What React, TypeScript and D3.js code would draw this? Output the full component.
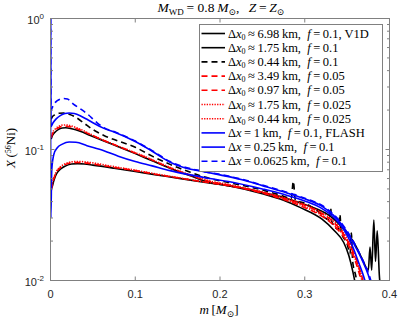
import React from "react";
import * as d3 from "d3";

type Pt = [number, number];

const W = 399;
const H = 319;
const plot = { left: 50.5, right: 389.5, top: 18.5, bottom: 280.5 };

const xTicks = [0, 0.1, 0.2, 0.3, 0.4];
const xTickLabels = ["0", "0.1", "0.2", "0.3", "0.4"];
const yTicks = [0.01, 0.1, 1];
const yTickExp = ["-2", "-1", "0"];

// [m, X(56Ni)]
const v1d698: Pt[] = [
  [0.0008, 0.05], [0.002, 0.052], [0.004, 0.058], [0.007, 0.065], [0.012, 0.071], [0.018, 0.075],
  [0.025, 0.0775], [0.032, 0.078], [0.04, 0.0775], [0.05, 0.076], [0.075, 0.072], [0.1, 0.068],
  [0.125, 0.064], [0.15, 0.0605], [0.175, 0.057], [0.2, 0.054], [0.225, 0.051], [0.25, 0.047],
  [0.275, 0.043], [0.3, 0.038], [0.315, 0.035], [0.33, 0.031], [0.345, 0.025], [0.358, 0.0195],
  [0.368, 0.0145], [0.375, 0.012], [0.377, 0.018], [0.379, 0.012], [0.3815, 0.029], [0.3835, 0.014],
  [0.3855, 0.024], [0.388, 0.011], [0.392, 0.007],
];
const v1d175: Pt[] = [
  [0.0008, 0.12], [0.002, 0.127], [0.005, 0.135], [0.009, 0.142], [0.014, 0.146], [0.018, 0.1465],
  [0.025, 0.144], [0.035, 0.138], [0.047, 0.128], [0.063, 0.116], [0.08, 0.105], [0.1, 0.093],
  [0.12, 0.082], [0.141, 0.072], [0.165, 0.063], [0.188, 0.056], [0.21, 0.053], [0.25, 0.046],
  [0.275, 0.041], [0.295, 0.036], [0.32, 0.0295], [0.335, 0.024], [0.346, 0.0195], [0.352, 0.0155],
  [0.357, 0.0115], [0.361, 0.0085],
];
const v1d044: Pt[] = [
  [0.0008, 0.17], [0.002, 0.177], [0.005, 0.184], [0.01, 0.189], [0.016, 0.19], [0.022, 0.186],
  [0.03, 0.176], [0.04, 0.158], [0.05, 0.142], [0.063, 0.128], [0.08, 0.116], [0.1, 0.104],
  [0.12, 0.089], [0.141, 0.077], [0.165, 0.067], [0.188, 0.06], [0.21, 0.056], [0.25, 0.049],
  [0.275, 0.044], [0.284, 0.042], [0.2865, 0.057], [0.289, 0.041], [0.3, 0.039], [0.315, 0.034],
  [0.329, 0.029], [0.3305, 0.036], [0.332, 0.028], [0.34, 0.0245], [0.3415, 0.032], [0.343, 0.0235],
  [0.35, 0.019], [0.3535, 0.016], [0.355, 0.023], [0.3565, 0.014], [0.36, 0.011], [0.364, 0.008],
];
const f005dx349: Pt[] = [
  [0.0008, 0.049], [0.002, 0.053], [0.004, 0.06], [0.007, 0.067], [0.012, 0.073], [0.018, 0.077],
  [0.025, 0.079], [0.032, 0.0795], [0.04, 0.079], [0.05, 0.0775], [0.075, 0.073], [0.1, 0.069],
  [0.125, 0.0645], [0.15, 0.0608], [0.175, 0.0573], [0.2, 0.0542], [0.225, 0.0508], [0.25, 0.047],
  [0.275, 0.0425], [0.3, 0.0375], [0.32, 0.0325], [0.335, 0.0275], [0.348, 0.0215], [0.358, 0.016],
  [0.366, 0.0115], [0.371, 0.0088],
];
const f005dx097: Pt[] = [
  [0.0008, 0.123], [0.002, 0.13], [0.005, 0.139], [0.009, 0.146], [0.014, 0.15], [0.018, 0.1505],
  [0.025, 0.148], [0.035, 0.141], [0.047, 0.13], [0.063, 0.117], [0.08, 0.106], [0.1, 0.094],
  [0.12, 0.083], [0.141, 0.0725], [0.165, 0.0635], [0.188, 0.057], [0.21, 0.0535], [0.25, 0.0465],
  [0.275, 0.0415], [0.3, 0.036], [0.32, 0.031], [0.335, 0.026], [0.348, 0.0205], [0.357, 0.0155],
  [0.364, 0.0115], [0.369, 0.0085],
];
const f0025dx175: Pt[] = [
  [0.0008, 0.048], [0.002, 0.054], [0.004, 0.061], [0.007, 0.068], [0.012, 0.074], [0.018, 0.078],
  [0.025, 0.0805], [0.032, 0.081], [0.04, 0.0805], [0.05, 0.079], [0.075, 0.074], [0.1, 0.0695],
  [0.125, 0.065], [0.15, 0.061], [0.175, 0.0575], [0.2, 0.0545], [0.225, 0.051], [0.25, 0.0475],
  [0.275, 0.043], [0.3, 0.038], [0.32, 0.033], [0.335, 0.028], [0.348, 0.022], [0.358, 0.0165],
  [0.365, 0.012], [0.37, 0.0095], [0.374, 0.007],
];
const f0025dx044: Pt[] = [
  [0.0008, 0.126], [0.002, 0.133], [0.005, 0.142], [0.009, 0.149], [0.014, 0.1535], [0.018, 0.154],
  [0.025, 0.151], [0.035, 0.143], [0.047, 0.131], [0.063, 0.1175], [0.08, 0.106], [0.1, 0.0945],
  [0.12, 0.0835], [0.141, 0.073], [0.165, 0.064], [0.188, 0.0575], [0.21, 0.054], [0.25, 0.047],
  [0.275, 0.042], [0.3, 0.0365], [0.32, 0.0315], [0.335, 0.0265], [0.348, 0.021], [0.358, 0.0155],
  [0.365, 0.0115], [0.37, 0.0085],
];
const flash1: Pt[] = [
  [0, 1], [0.0004, 0.03], [0.0015, 0.07], [0.004, 0.092], [0.008, 0.103], [0.014, 0.11],
  [0.022, 0.114], [0.03, 0.1135], [0.043, 0.107], [0.063, 0.098], [0.08, 0.089], [0.1, 0.081],
  [0.12, 0.075], [0.141, 0.069], [0.165, 0.064], [0.188, 0.06], [0.21, 0.057], [0.25, 0.05],
  [0.275, 0.0455], [0.3, 0.0405], [0.32, 0.0355], [0.335, 0.03], [0.346, 0.0245], [0.356, 0.0185],
  [0.364, 0.0135], [0.37, 0.0105], [0.374, 0.0085],
];
const flash025: Pt[] = [
  [0, 1], [0.0005, 0.15], [0.003, 0.16], [0.007, 0.172], [0.012, 0.182], [0.017, 0.188],
  [0.022, 0.19], [0.028, 0.188], [0.035, 0.181], [0.043, 0.17], [0.05, 0.16], [0.063, 0.145],
  [0.075, 0.136], [0.1, 0.115], [0.12, 0.097], [0.141, 0.08], [0.16, 0.072], [0.18, 0.068],
  [0.2, 0.064], [0.225, 0.059], [0.25, 0.053], [0.275, 0.0475], [0.3, 0.042], [0.32, 0.037],
  [0.334, 0.0315], [0.346, 0.0255], [0.358, 0.019], [0.368, 0.0142], [0.375, 0.011], [0.38, 0.0085],
];
const flash00625: Pt[] = [
  [0, 1], [0.0005, 0.2], [0.003, 0.215], [0.006, 0.23], [0.01, 0.24], [0.0155, 0.245],
  [0.02, 0.243], [0.027, 0.222], [0.035, 0.205], [0.043, 0.188], [0.055, 0.16], [0.063, 0.147],
  [0.075, 0.137], [0.1, 0.116], [0.12, 0.098], [0.141, 0.081], [0.16, 0.073], [0.18, 0.068],
  [0.2, 0.0645], [0.225, 0.0595], [0.25, 0.0535], [0.275, 0.048], [0.3, 0.0425], [0.32, 0.0375],
  [0.334, 0.032], [0.346, 0.026], [0.358, 0.0195], [0.368, 0.0145], [0.376, 0.011], [0.381, 0.0085],
];

const legendDx = ["6.98", "1.75", "0.44", "3.49", "0.97", "1.75", "0.44", "1", "0.25", "0.0625"];
const legendF = ["0.1", "0.1", "0.1", "0.05", "0.05", "0.025", "0.025", "0.1", "0.1", "0.1"];
const legendCode = ["V1D", "", "", "", "", "", "", "FLASH", "", ""];

const BLUE = "#0000ff";
const RED = "#ff0000";
const DASH = "6,4";
const DOT = "1.3,1.3";

const series = [
  { data: v1d698, color: "#000", dash: "", flash: false },
  { data: v1d175, color: "#000", dash: "", flash: false },
  { data: v1d044, color: "#000", dash: DASH, flash: false },
  { data: f005dx349, color: RED, dash: DASH, flash: false },
  { data: f005dx097, color: RED, dash: DASH, flash: false },
  { data: f0025dx175, color: RED, dash: DOT, flash: false },
  { data: f0025dx044, color: RED, dash: DOT, flash: false },
  { data: flash1, color: BLUE, dash: "", flash: true },
  { data: flash025, color: BLUE, dash: "", flash: true },
  { data: flash00625, color: BLUE, dash: DASH, flash: true },
];

const SERIF = "'Liberation Serif', 'DejaVu Serif', serif";
const SANS = "'Liberation Sans', Arial, sans-serif";
const AXIS = "#808080";

export default function App() {
  const x = d3.scaleLinear().domain([0, 0.4]).range([plot.left, plot.right]);
  const y = d3.scaleLog().domain([0.01, 1]).range([plot.bottom, plot.top]);
  const line = d3
    .line<Pt>()
    .x((d) => x(d[0]))
    .y((d) => y(d[1]))
    .curve(d3.curveMonotoneX);

  const minor: number[] = [];
  [0.01, 0.1].forEach((d) => {
    for (let k = 2; k <= 9; k++) minor.push(k * d);
  });

  const lg = { x: 199.5, y: 24.5, w: 183, h: 147, row0: 33.5, dy: 14.2 };

  return (
    <svg width={W} height={H} style={{ position: "absolute", left: 0, top: 0 }}>
      <rect width={W} height={H} fill="#fff" />
      <defs>
        <clipPath id="plotclip">
          <rect x={plot.left} y={plot.top - 1} width={plot.right - plot.left} height={plot.bottom - plot.top + 1} />
        </clipPath>
      </defs>

      {/* title */}
      <text x={221} y={12} textAnchor="middle" fontFamily={SERIF} fontSize={13.5}>
        <tspan fontStyle="italic">M</tspan>
        <tspan fontSize={9} dy={2.5}>WD</tspan>
        <tspan dy={-2.5}>{"\u2009= 0.8\u2009"}</tspan>
        <tspan fontStyle="italic">M</tspan>
        <tspan fontSize={9} dy={2.5}>⊙</tspan>
        <tspan dy={-2.5}>{",\u2002\u2009"}</tspan>
        <tspan fontStyle="italic">Z</tspan>
        <tspan>{"\u2009=\u2009"}</tspan>
        <tspan fontStyle="italic">Z</tspan>
        <tspan fontSize={9} dy={2.5}>⊙</tspan>
      </text>

      {/* curves */}
      <g clipPath="url(#plotclip)" fill="none">
        {series.map((s, i) => (
          <path
            key={i}
            d={line(s.data) || ""}
            stroke={s.color}
            strokeWidth={1.6}
            strokeDasharray={s.dash || undefined}
          />
        ))}
      </g>

      {/* axes box */}
      <rect
        x={plot.left}
        y={plot.top}
        width={plot.right - plot.left}
        height={plot.bottom - plot.top}
        fill="none"
        stroke={AXIS}
        strokeWidth={1}
      />
      {xTicks.map((t) => (
        <g key={"xt" + t} stroke={AXIS}>
          <line x1={x(t)} x2={x(t)} y1={plot.bottom} y2={plot.bottom - 4} />
          <line x1={x(t)} x2={x(t)} y1={plot.top} y2={plot.top + 4} />
        </g>
      ))}
      {yTicks.map((t) => (
        <g key={"yt" + t} stroke={AXIS}>
          <line x1={plot.left} x2={plot.left + 4} y1={y(t)} y2={y(t)} />
          <line x1={plot.right} x2={plot.right - 4} y1={y(t)} y2={y(t)} />
        </g>
      ))}
      {minor.map((t) => (
        <g key={"ym" + t} stroke={AXIS}>
          <line x1={plot.left} x2={plot.left + 2.5} y1={y(t)} y2={y(t)} />
          <line x1={plot.right} x2={plot.right - 2.5} y1={y(t)} y2={y(t)} />
        </g>
      ))}

      {/* tick labels */}
      {xTicks.map((t, i) => (
        <text key={"xl" + t} x={x(t)} y={298} textAnchor="middle" fontFamily={SANS} fontSize={11} fill="#262626">
          {xTickLabels[i]}
        </text>
      ))}
      {yTicks.map((t, i) => (
        <text key={"yl" + t} x={44} y={y(t) + 5} textAnchor="end" fontFamily={SANS} fontSize={11} fill="#262626">
          10
          <tspan fontSize={8} dy={-5}>{yTickExp[i]}</tspan>
        </text>
      ))}

      {/* axis labels */}
      <text x={219} y={314} textAnchor="middle" fontFamily={SERIF} fontSize={13}>
        <tspan fontStyle="italic">m</tspan>
        <tspan>{"\u2009["}</tspan>
        <tspan fontStyle="italic">M</tspan>
        <tspan fontSize={9} dy={2.5}>⊙</tspan>
        <tspan dy={-2.5}>]</tspan>
      </text>
      <text transform="translate(15,148) rotate(-90)" textAnchor="middle" fontFamily={SERIF} fontSize={13}>
        <tspan fontStyle="italic">X</tspan>
        <tspan>{"\u2009("}</tspan>
        <tspan fontSize={8} dy={-4}>56</tspan>
        <tspan dy={4}>Ni)</tspan>
      </text>

      {/* legend */}
      <rect x={lg.x} y={lg.y} width={lg.w} height={lg.h} fill="#fff" stroke={AXIS} strokeWidth={1} />
      {series.map((s, i) => {
        const ry = lg.row0 + i * lg.dy;
        return (
          <g key={"lg" + i}>
            <line
              x1={201.5}
              x2={225}
              y1={ry}
              y2={ry}
              stroke={s.color}
              strokeWidth={1.6}
              strokeDasharray={s.dash || undefined}
            />
            <text x={228} y={ry + 4} fontFamily={SERIF} fontSize={12.5}>
              Δ<tspan fontStyle="italic">x</tspan>
              {s.flash ? (
                <tspan>{"\u2009=\u2009"}{legendDx[i]}{"\u2009"}km,{"\u2002"}</tspan>
              ) : (
                <>
                  <tspan fontSize={8} dy={2}>0</tspan>
                  <tspan dy={-2}>{"\u2009≈\u2009"}{legendDx[i]}{"\u2009"}km,{"\u2002"}</tspan>
                </>
              )}
              <tspan fontStyle="italic">f</tspan>
              <tspan>{"\u2009=\u2009"}{legendF[i]}{legendCode[i] ? ", " + legendCode[i] : ""}</tspan>
            </text>
          </g>
        );
      })}
    </svg>
  );
}
